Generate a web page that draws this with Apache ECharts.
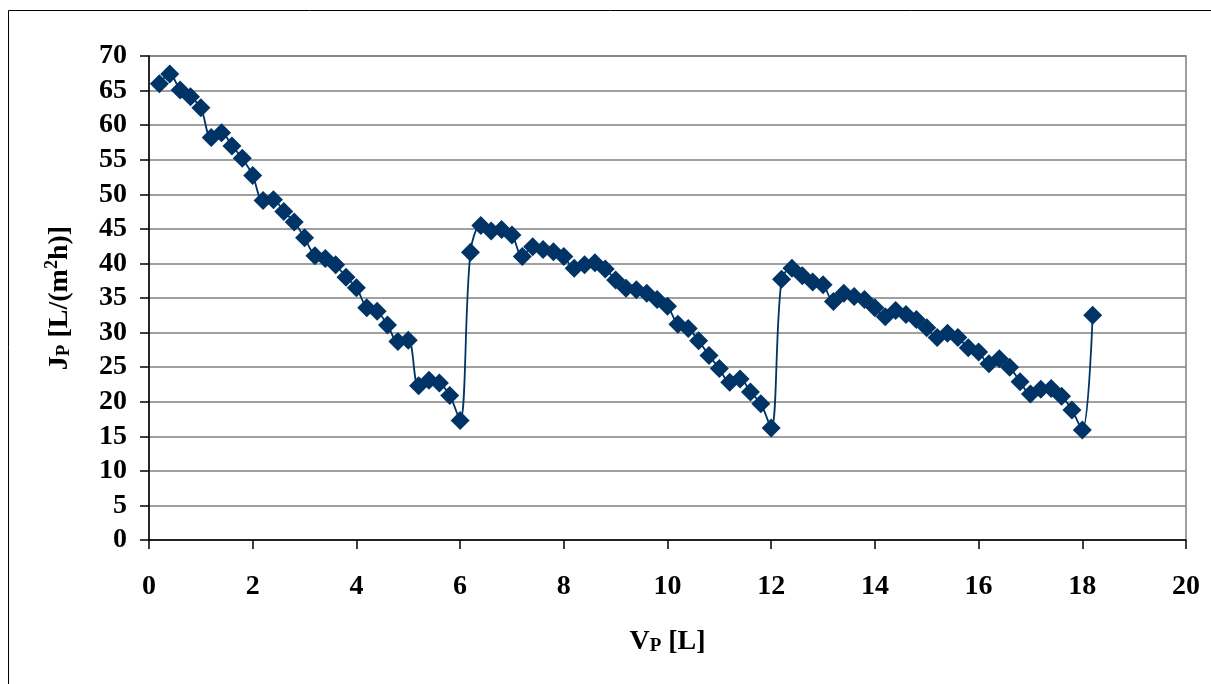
<!DOCTYPE html>
<html>
<head>
<meta charset="utf-8">
<title>Permeate flux vs permeate volume</title>
<script src="https://cdn.jsdelivr.net/npm/echarts@6/dist/echarts.min.js"></script>
<style>
  html, body { margin: 0; padding: 0; background: #ffffff; }
  #chart { width: 1211px; height: 684px; }
</style>
</head>
<body>
<div id="chart"></div>
<script>
// Permeate volume V_P [L]
const volume = [
  0.2, 0.4, 0.6, 0.8, 1.0, 1.2, 1.4, 1.6, 1.8, 2.0,
  2.2, 2.4, 2.6, 2.8, 3.0, 3.2, 3.4, 3.6, 3.8, 4.0,
  4.2, 4.4, 4.6, 4.8, 5.0, 5.2, 5.4, 5.6, 5.8, 6.0,
  6.2, 6.4, 6.6, 6.8, 7.0, 7.2, 7.4, 7.6, 7.8, 8.0,
  8.2, 8.4, 8.6, 8.8, 9.0, 9.2, 9.4, 9.6, 9.8, 10.0,
  10.2, 10.4, 10.6, 10.8, 11.0, 11.2, 11.4, 11.6, 11.8, 12.0,
  12.2, 12.4, 12.6, 12.8, 13.0, 13.2, 13.4, 13.6, 13.8, 14.0,
  14.2, 14.4, 14.6, 14.8, 15.0, 15.2, 15.4, 15.6, 15.8, 16.0,
  16.2, 16.4, 16.6, 16.8, 17.0, 17.2, 17.4, 17.6, 17.8, 18.0,
  18.2
];

// Permeate flux J_P [L/(m2 h)]
const flux = [
  66.0, 67.4, 65.1, 64.1, 62.5, 58.2, 58.9, 57.0, 55.2, 52.7,
  49.1, 49.2, 47.5, 46.0, 43.7, 41.1, 40.7, 39.8, 38.0, 36.5,
  33.6, 33.1, 31.1, 28.7, 28.9, 22.3, 23.1, 22.7, 20.9, 17.3,
  41.6, 45.5, 44.7, 44.9, 44.1, 41.0, 42.4, 42.0, 41.7, 41.0,
  39.3, 39.8, 40.1, 39.2, 37.6, 36.4, 36.2, 35.7, 34.8, 33.8,
  31.2, 30.6, 28.8, 26.7, 24.8, 22.8, 23.3, 21.4, 19.7, 16.2,
  37.7, 39.3, 38.2, 37.3, 36.9, 34.5, 35.7, 35.2, 34.8, 33.6,
  32.3, 33.2, 32.6, 31.9, 30.7, 29.3, 29.9, 29.3, 27.8, 27.2,
  25.5, 26.2, 25.0, 22.9, 21.1, 21.8, 21.9, 20.8, 18.8, 15.9,
  32.5
];

// Axis ranges and tick steps
const xRange = { min: 0, max: 20, step: 2 };
const yRange = { min: 0, max: 70, step: 5 };

const points = volume.map((v, i) => [v, flux[i]]);

const FONT = "'Liberation Serif', 'Times New Roman', serif";
const NAVY = '#003366';

const chart = echarts.init(document.getElementById('chart'), null, { renderer: 'canvas' });

chart.setOption({
  backgroundColor: '#ffffff',
  animation: false,
  graphic: [{
    type: 'rect',
    shape: { x: 8.5, y: 10.5, width: 1240, height: 720 },
    style: { fill: 'none', stroke: '#000000', lineWidth: 1 },
    silent: true,
    z: -10
  }],
  grid: {
    left: 149, right: 25, top: 56, bottom: 144,
    show: true,
    borderColor: '#808080',
    borderWidth: 1.5,
    backgroundColor: 'transparent'
  },
  xAxis: {
    type: 'value',
    min: xRange.min, max: xRange.max, interval: xRange.step,
    axisLine: { show: true, onZero: false, lineStyle: { color: '#000000', width: 1.5 } },
    axisTick: { show: true, inside: false, length: 9, lineStyle: { color: '#000000', width: 1.5 } },
    splitLine: { show: false },
    axisLabel: {
      margin: 33,
      color: '#000000', fontFamily: FONT, fontWeight: 'bold', fontSize: 28
    },
    name: '{a|V}{s|P}{a| [L]}',
    nameLocation: 'middle',
    nameGap: 88,
    nameTextStyle: {
      rich: {
        a: { fontFamily: FONT, fontWeight: 'bold', fontSize: 28, color: '#000000' },
        s: { fontFamily: FONT, fontWeight: 'bold', fontSize: 19, color: '#000000', padding: [8, 0, 0, 0] }
      }
    }
  },
  yAxis: {
    type: 'value',
    min: yRange.min, max: yRange.max, interval: yRange.step,
    axisLine: { show: true, onZero: false, lineStyle: { color: '#000000', width: 1.5 } },
    axisTick: { show: true, inside: false, length: 9, lineStyle: { color: '#000000', width: 1.5 } },
    splitLine: { show: true, lineStyle: { color: '#808080', width: 1.5 } },
    axisLabel: {
      margin: 22,
      color: '#000000', fontFamily: FONT, fontWeight: 'bold', fontSize: 28
    },
    name: '{a|J}{s|P}{a| [L/(m}{u|2}{a|h)]}',
    nameLocation: 'middle',
    nameRotate: 90,
    nameGap: 72,
    nameTextStyle: {
      rich: {
        a: { fontFamily: FONT, fontWeight: 'bold', fontSize: 28, color: '#000000' },
        s: { fontFamily: FONT, fontWeight: 'bold', fontSize: 19, color: '#000000', padding: [8, 0, 0, 0] },
        u: { fontFamily: FONT, fontWeight: 'bold', fontSize: 18, color: '#000000', padding: [0, 0, 16, 0] }
      }
    }
  },
  series: [{
    type: 'line',
    data: points,
    smooth: 0.35,
    symbol: 'diamond',
    symbolSize: 19,
    itemStyle: { color: NAVY },
    lineStyle: { color: NAVY, width: 1.8 },
    clip: false
  }]
});
</script>
</body>
</html>
